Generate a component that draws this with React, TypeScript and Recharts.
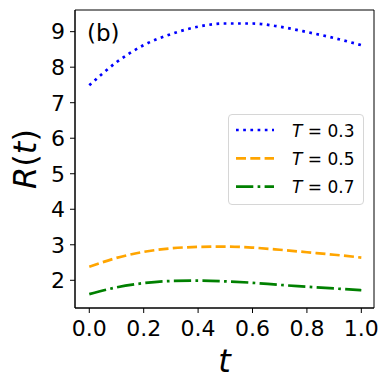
import React from 'react';
import { LineChart, Line, XAxis, YAxis, Legend, Label, ReferenceArea } from 'recharts';

const tValues = [0, 0.1, 0.2, 0.3, 0.4, 0.5, 0.6, 0.7, 0.8, 0.9, 1.0];
const rT03 = [7.49, 8.14, 8.62, 8.93, 9.14, 9.23, 9.23, 9.14, 8.99, 8.82, 8.62];
const rT05 = [2.38, 2.63, 2.8, 2.9, 2.94, 2.95, 2.92, 2.86, 2.79, 2.72, 2.64];
const rT07 = [1.61, 1.8, 1.92, 1.98, 1.99, 1.97, 1.93, 1.87, 1.82, 1.77, 1.72];
const xTicks = [0, 0.2, 0.4, 0.6, 0.8, 1.0];
const yTicks = [2, 3, 4, 5, 6, 7, 8, 9];
const seriesLabels = ['0.3', '0.5', '0.7'];

const data = tValues.map((t, i) => ({ t, a: rT03[i], b: rT05[i], c: rT07[i] }));

const series = [
  { key: 'a', label: seriesLabels[0], color: '#0000ff', dash: '2.7 4.5' },
  { key: 'b', label: seriesLabels[1], color: '#ffa500', dash: '10 4.3' },
  { key: 'c', label: seriesLabels[2], color: '#008000', dash: '17.3 4.3 2.7 4.3' },
];

const FONT = 'DejaVu Sans';
const xDomain = [-0.0525, 1.0466];
const yDomain = [1.22, 9.61];

const LegendBox = () => (
  <div
    style={{
      width: 136,
      height: 91,
      boxSizing: 'border-box',
      border: '1px solid #d6d6d6',
      borderRadius: 4,
      background: 'rgba(255,255,255,0.8)',
    }}
  >
    <svg width={134} height={89} style={{ display: 'block' }}>
      {series.map((s, i) => (
        <g key={s.key}>
          <line
            x1={7}
            x2={45}
            y1={15 + i * 28.3}
            y2={15 + i * 28.3}
            stroke={s.color}
            strokeWidth={2.7}
            strokeDasharray={s.dash}
          />
          <text x={63} y={15 + i * 28.3 + 6.5} fontFamily={FONT} fontSize={17} fill="#000">
            <tspan fontStyle="italic">T</tspan>
            <tspan> = {s.label}</tspan>
          </text>
        </g>
      ))}
    </svg>
  </div>
);

export default function App() {
  return (
    <div style={{ position: 'absolute', left: 0, top: 0, width: 390, height: 390, background: '#fff' }}>
      <LineChart width={390} height={390} data={data} margin={{ top: 10, right: 16, bottom: 0, left: 0 }}>
        <XAxis
          dataKey="t"
          type="number"
          domain={xDomain}
          allowDataOverflow
          ticks={xTicks}
          tickFormatter={(v: number) => v.toFixed(1)}
          height={82}
          tickSize={5}
          tickMargin={7}
          axisLine={{ stroke: '#000', strokeWidth: 1 }}
          tickLine={{ stroke: '#000', strokeWidth: 1 }}
          tick={{ fontSize: 22, fill: '#000', fontFamily: FONT }}
        >
          <Label
            content={(props: any) => {
              const vb = props.viewBox || {};
              return (
                <text
                  x={vb.x + vb.width / 2}
                  y={vb.y + 64}
                  textAnchor="middle"
                  fontFamily={FONT}
                  fontSize={32}
                  fontStyle="italic"
                  fill="#000"
                >
                  t
                </text>
              );
            }}
          />
        </XAxis>
        <YAxis
          type="number"
          domain={yDomain}
          allowDataOverflow
          ticks={yTicks}
          width={75}
          tickSize={5}
          tickMargin={5}
          axisLine={{ stroke: '#000', strokeWidth: 1 }}
          tickLine={{ stroke: '#000', strokeWidth: 1 }}
          tick={{ fontSize: 22, fill: '#000', fontFamily: FONT }}
        >
          <Label
            content={(props: any) => {
              const vb = props.viewBox || {};
              const cx = vb.x + 25;
              const cy = vb.y + vb.height / 2;
              return (
                <text
                  x={cx}
                  y={cy}
                  transform={`rotate(-90 ${cx} ${cy})`}
                  textAnchor="middle"
                  dominantBaseline="central"
                  fontFamily={FONT}
                  fontSize={32}
                  fill="#000"
                >
                  <tspan fontStyle="italic">R</tspan>
                  <tspan>(</tspan>
                  <tspan fontStyle="italic">t</tspan>
                  <tspan>)</tspan>
                </text>
              );
            }}
          />
        </YAxis>
        <ReferenceArea
          x1={xDomain[0]}
          x2={xDomain[1]}
          y1={yDomain[0]}
          y2={yDomain[1]}
          fill="none"
          fillOpacity={0}
          stroke="#000"
          strokeWidth={1}
          strokeOpacity={1}
          ifOverflow="visible"
        >
          <Label
            content={(props: any) => {
              const vb = props.viewBox || {};
              return (
                <text x={vb.x + 12} y={vb.y + 31} fontFamily={FONT} fontSize={23} fill="#000">
                  (b)
                </text>
              );
            }}
          />
        </ReferenceArea>
        {series.map((s) => (
          <Line
            key={s.key}
            dataKey={s.key}
            type="monotone"
            stroke={s.color}
            strokeWidth={2.7}
            strokeDasharray={s.dash}
            dot={false}
            activeDot={false}
            isAnimationActive={false}
          />
        ))}
        <Legend
          layout="vertical"
          align="center"
          verticalAlign="middle"
          wrapperStyle={{ left: 228, top: 114, width: 136, height: 91 }}
          content={() => <LegendBox />}
        />
      </LineChart>
    </div>
  );
}
